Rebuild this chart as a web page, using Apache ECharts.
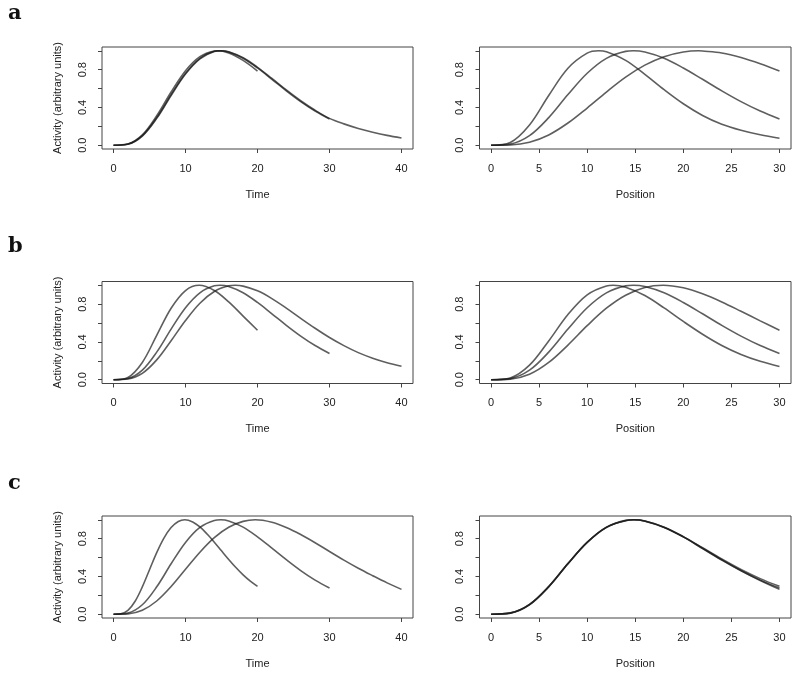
<!DOCTYPE html>
<html><head><meta charset="utf-8">
<script src="https://cdn.jsdelivr.net/npm/echarts@6.0.0/dist/echarts.min.js"></script>
<style>html,body{margin:0;padding:0;background:#fff}#chart{width:800px;height:677px}</style>
</head><body><div id="chart"></div>
<script>
// ---- x grids ----
const timeX20 = [0,2,4,6,8,10,12,14,16,18,20];
const timeX20fine = [0,1,2,3,4,5,6,7,8,9,10,11,12,13,14,15,16,17,18,19,20];
const timeX30 = [0,2,4,6,8,10,12,14,16,18,20,22,24,26,28,30];
const timeX40 = [0,2,4,6,8,10,12,14,16,18,20,22,24,26,28,30,32,34,36,38,40];
const posX = [0,2,4,6,8,10,12,14,16,18,20,22,24,26,28,30];

// ---- tick labels ----
const timeTicks = [0,10,20,30,40];
const posTicks = [0,5,10,15,20,25,30];
const yTicks = [0,0.2,0.4,0.6,0.8,1.0];
const yLabels = [0,0.4,0.8];

// ---- panel a ----
const aTime20 = [0,0.013,0.109,0.312,0.563,0.789,0.938,0.998,0.977,0.898,0.785];
const aTime30 = [0,0.012,0.101,0.292,0.536,0.762,0.920,0.994,0.987,0.921,0.818,0.698,0.576,0.462,0.362,0.278];
const aTime40 = [0,0.011,0.097,0.284,0.527,0.753,0.914,0.992,0.989,0.926,0.825,0.707,0.585,0.471,0.370,0.284,0.226,0.178,0.138,0.104,0.077];
const aPos1 = [0,0.029,0.214,0.527,0.815,0.975,0.989,0.898,0.750,0.588,0.439,0.315,0.222,0.158,0.110,0.074];
const aPos2 = [0,0.012,0.101,0.292,0.536,0.762,0.920,0.994,0.987,0.921,0.818,0.698,0.576,0.462,0.362,0.278];
const aPos3 = [0,0.003,0.032,0.109,0.235,0.394,0.563,0.721,0.848,0.938,0.987,0.998,0.977,0.929,0.863,0.785];
const aTimePeaks = [14.4, 14.8, 15.0];
const aPosPeaks = [11.2, 14.8, 21.6];

// ---- panel b ----
const bTime20 = [0,0.024,0.183,0.470,0.757,0.944,1.000,0.945,0.824,0.674,0.524];
const bTime30 = [0,0.012,0.101,0.292,0.536,0.762,0.920,0.994,0.987,0.921,0.818,0.698,0.576,0.462,0.362,0.278];
const bTime40 = [0,0.008,0.068,0.210,0.413,0.627,0.810,0.934,0.994,0.991,0.941,0.859,0.758,0.650,0.545,0.447,0.361,0.287,0.228,0.180,0.142];
const bPos1 = [0,0.019,0.154,0.411,0.691,0.899,0.993,0.980,0.891,0.760,0.617,0.482,0.363,0.268,0.195,0.140];
const bPos2 = [0,0.012,0.101,0.292,0.536,0.762,0.920,0.994,0.987,0.921,0.818,0.698,0.576,0.462,0.362,0.278];
const bPos3 = [0,0.006,0.058,0.183,0.367,0.572,0.757,0.895,0.977,1.000,0.973,0.910,0.824,0.725,0.623,0.524];
const bTimePeaks = [11.9, 14.8, 16.9];
const bPosPeaks = [12.7, 14.8, 17.9];

// ---- panel c ----
const cTime20 = [0,0.004,0.040,0.137,0.289,0.471,0.652,0.806,0.918,0.982,1.000,0.977,0.924,0.849,0.763,0.671,0.580,0.494,0.416,0.350,0.295];
const cTime30 = [0,0.012,0.100,0.290,0.534,0.760,0.919,0.993,0.988,0.922,0.819,0.699,0.577,0.462,0.361,0.277];
const cTime40 = [0,0.004,0.042,0.140,0.293,0.476,0.657,0.811,0.921,0.983,0.999,0.974,0.919,0.844,0.757,0.664,0.573,0.487,0.408,0.332,0.263];
const cPos1 = [0,0.012,0.101,0.292,0.536,0.762,0.920,0.994,0.987,0.922,0.822,0.704,0.585,0.474,0.377,0.295];
const cPos2 = [0,0.012,0.100,0.290,0.534,0.760,0.919,0.993,0.988,0.922,0.819,0.699,0.577,0.462,0.361,0.277];
const cPos3 = [0,0.014,0.105,0.293,0.536,0.760,0.921,0.990,0.985,0.919,0.819,0.695,0.573,0.460,0.357,0.263];
const cTimePeaks = [9.9, 14.9, 19.7];
const cPosPeaks = [14.85, 14.9, 14.8];
const peakValue = 1.0;

const FONT = 'Liberation Sans';
const TXT = '#222';
const rowTops = [47, 281.5, 516];
const grids = [];
rowTops.forEach(t => {
  grids.push({left:102, top:t, width:311, height:102});
  grids.push({left:479.5, top:t, width:311.5, height:102});
});
grids.forEach(g => Object.assign(g, {show:true, borderColor:'#444', borderWidth:1, backgroundColor:'transparent', containLabel:false}));

const xAxis = grids.map((g,i) => {
  const pos = i % 2 === 1;
  const ticks = pos ? posTicks : timeTicks;
  return {
    type:'value', gridIndex:i,
    min: pos ? -1.2 : -1.6, max: pos ? 31.2 : 41.6,
    name: pos ? 'Position' : 'Time', nameLocation:'middle', nameGap:40,
    nameTextStyle:{fontFamily:FONT, fontSize:11, color:TXT},
    axisLine:{show:false, onZero:false},
    splitLine:{show:false},
    axisTick:{show:true, length:4, customValues:ticks, lineStyle:{color:'#444'}},
    axisLabel:{show:true, customValues:ticks, margin:14, fontFamily:FONT, fontSize:11, color:TXT}
  };
});
const yAxis = grids.map((g,i) => {
  const left = i % 2 === 0;
  return {
    type:'value', gridIndex:i, min:-0.04, max:1.04,
    name: left ? 'Activity (arbitrary units)' : '', nameLocation:'middle', nameGap:39,
    nameTextStyle:{fontFamily:FONT, fontSize:11, color:TXT},
    axisLine:{show:false, onZero:false},
    splitLine:{show:false},
    axisTick:{show:true, length:4, customValues:yTicks, lineStyle:{color:'#444'}},
    axisLabel:{show:true, customValues:yLabels, rotate:90, margin:14, fontFamily:FONT, fontSize:11, color:TXT,
      formatter: v => Number(v).toFixed(1)}
  };
});

function line(gi, xs, ys, peak) {
  const pts = xs.map((x,k) => [x, ys[k]]).filter(p => Math.abs(p[0] - peak) > 0.35);
  pts.push([peak, peakValue]);
  pts.sort((p, q) => p[0] - q[0]);
  return {type:'line', xAxisIndex:gi, yAxisIndex:gi, data: pts,
    showSymbol:false, symbol:'none', smooth:0.35, silent:true,
    lineStyle:{color:'#1a1a1a', width:1.6, opacity:0.7}};
}

const series = [
  line(0, timeX20, aTime20, aTimePeaks[0]), line(0, timeX30, aTime30, aTimePeaks[1]), line(0, timeX40, aTime40, aTimePeaks[2]),
  line(1, posX, aPos1, aPosPeaks[0]), line(1, posX, aPos2, aPosPeaks[1]), line(1, posX, aPos3, aPosPeaks[2]),
  line(2, timeX20, bTime20, bTimePeaks[0]), line(2, timeX30, bTime30, bTimePeaks[1]), line(2, timeX40, bTime40, bTimePeaks[2]),
  line(3, posX, bPos1, bPosPeaks[0]), line(3, posX, bPos2, bPosPeaks[1]), line(3, posX, bPos3, bPosPeaks[2]),
  line(4, timeX20fine, cTime20, cTimePeaks[0]), line(4, timeX30, cTime30, cTimePeaks[1]), line(4, timeX40, cTime40, cTimePeaks[2]),
  line(5, posX, cPos1, cPosPeaks[0]), line(5, posX, cPos2, cPosPeaks[1]), line(5, posX, cPos3, cPosPeaks[2])
];

const panelLetters = [['a', 14], ['b', 247], ['c', 484]];
const graphic = panelLetters.map(([t, y]) => ({
  type:'text', x:8, y:y,
  style:{text:t, font:'bold 21px "DejaVu Serif"', fill:'#111', align:'left', verticalAlign:'middle'}
}));

const chart = echarts.init(document.getElementById('chart'), null, {renderer:'canvas'});
chart.setOption({animation:false, backgroundColor:'#fff', grid:grids, xAxis, yAxis, series, graphic});
</script></body></html>
